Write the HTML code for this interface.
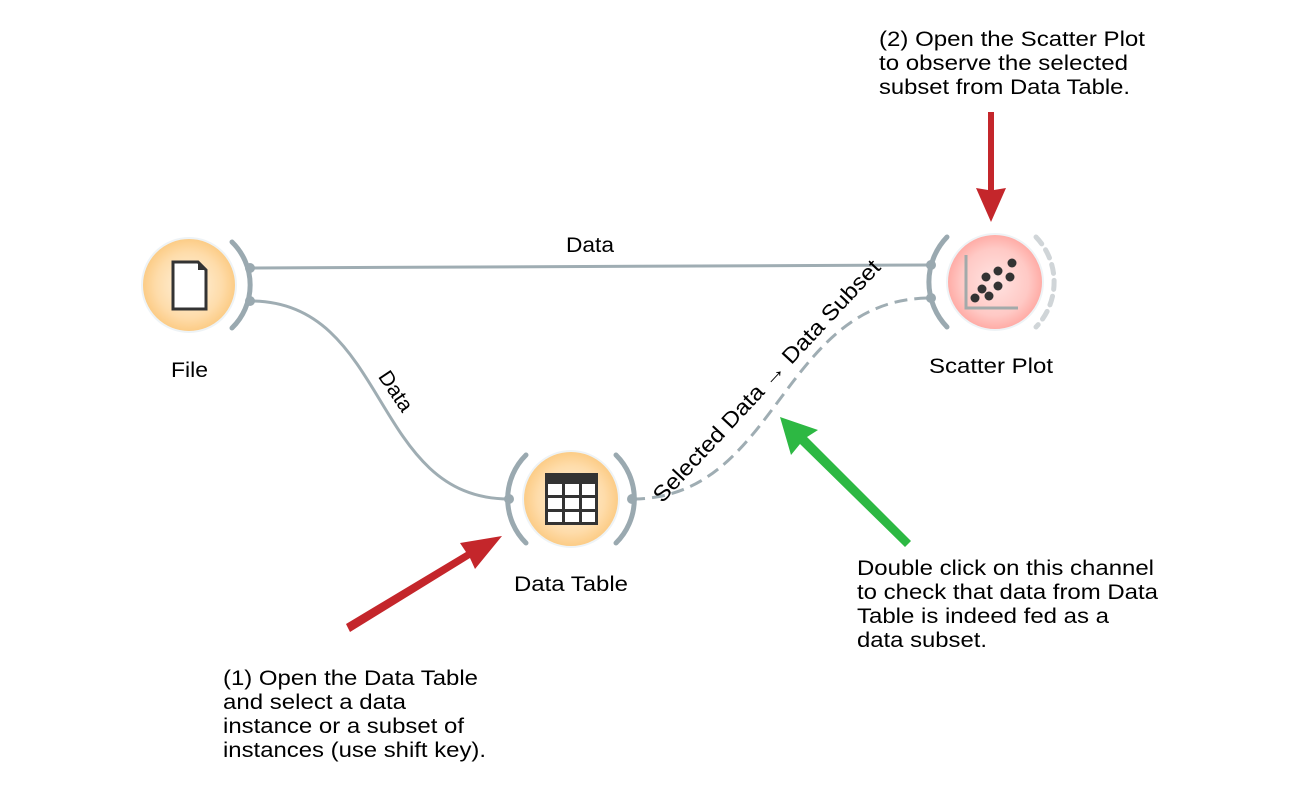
<!DOCTYPE html>
<html><head><meta charset="utf-8"><style>
html,body{margin:0;padding:0;background:#fff;}
svg{display:block;font-family:"Liberation Sans",Arial,sans-serif;}
</style></head><body>
<svg width="1316" height="801" viewBox="0 0 1316 801" xmlns="http://www.w3.org/2000/svg">
<defs>
<radialGradient id="og" cx="50%" cy="50%" r="50%">
<stop offset="0" stop-color="#fff3e0"/><stop offset="0.7" stop-color="#fedcaa"/><stop offset="1" stop-color="#fccb84"/>
</radialGradient>
<radialGradient id="rg" cx="50%" cy="50%" r="50%">
<stop offset="0" stop-color="#ffe4e2"/><stop offset="0.7" stop-color="#ffc9c5"/><stop offset="1" stop-color="#ffaaa4"/>
</radialGradient>
</defs>
<!-- links -->
<path d="M250 268 L931 265" stroke="#9fadb3" stroke-width="3" fill="none"/>
<path d="M250 301 C390 301 370 499 509 499" stroke="#9fadb3" stroke-width="3" fill="none"/>
<path d="M632 499 C780 499 780 298 931 298" stroke="#9fadb3" stroke-width="3" fill="none" stroke-dasharray="13 7"/>
<!-- File node -->
<circle cx="189" cy="285" r="47" fill="url(#og)" stroke="#eef3f6" stroke-width="2"/>
<path d="M173 262 L198 262 L206 270 L206 309 L173 309 Z" fill="#fff" stroke="#333" stroke-width="3"/>
<path d="M198 262 L206 270 L198 270 Z" fill="#333"/>
<path d="M232 242 A60 60 0 0 1 232 328" stroke="#9aa9b0" stroke-width="5" fill="none" stroke-linecap="round"/>
<circle cx="250" cy="268" r="5" fill="#9aa9b0"/><circle cx="250" cy="301" r="5" fill="#9aa9b0"/>
<g font-size="21" lengthAdjust="spacingAndGlyphs">
<text x="171" y="377" textLength="37" lengthAdjust="spacingAndGlyphs">File</text>
</g>
<!-- Scatter -->
<circle cx="995" cy="282" r="48" fill="url(#rg)" stroke="#eef3f6" stroke-width="2"/>
<path d="M966 255 L966 308 L1018 308" stroke="#a3aaaa" stroke-width="3" fill="none"/>
<g fill="#333"><circle cx="975" cy="298" r="4.5"/><circle cx="982" cy="289" r="4.5"/><circle cx="989" cy="296" r="4.5"/><circle cx="986" cy="277" r="4.5"/><circle cx="998" cy="286" r="4.5"/><circle cx="998" cy="271" r="4.5"/><circle cx="1010" cy="277" r="4.5"/><circle cx="1012" cy="263" r="4.5"/></g>
<path d="M947 237 A65 65 0 0 0 947 327" stroke="#9aa9b0" stroke-width="5" fill="none" stroke-linecap="round"/>
<circle cx="931" cy="265" r="5" fill="#9aa9b0"/><circle cx="931" cy="298" r="5" fill="#9aa9b0"/>
<path d="M1036 237 A65 65 0 0 1 1036 327" stroke="#d0d5d8" stroke-width="5" fill="none" stroke-dasharray="9 7" stroke-linecap="round"/>
<text x="929" y="373" font-size="21" textLength="124" lengthAdjust="spacingAndGlyphs">Scatter Plot</text>
<!-- Data Table -->
<circle cx="571" cy="499" r="48" fill="url(#og)" stroke="#eef3f6" stroke-width="2"/>
<rect x="545" y="473" width="53" height="52" fill="#333"/>
<g fill="#fff"><rect x="548" y="484" width="14" height="11"/><rect x="565" y="484" width="14" height="11"/><rect x="582" y="484" width="13" height="11"/>
<rect x="548" y="498" width="14" height="11"/><rect x="565" y="498" width="14" height="11"/><rect x="582" y="498" width="13" height="11"/>
<rect x="548" y="512" width="14" height="10"/><rect x="565" y="512" width="14" height="10"/><rect x="582" y="512" width="13" height="10"/></g>
<path d="M526 455 A62 62 0 0 0 526 543" stroke="#9aa9b0" stroke-width="5" fill="none" stroke-linecap="round"/>
<path d="M616 455 A62 62 0 0 1 616 543" stroke="#9aa9b0" stroke-width="5" fill="none" stroke-linecap="round"/>
<circle cx="509" cy="499" r="5" fill="#9aa9b0"/><circle cx="632" cy="499" r="5" fill="#9aa9b0"/>
<text x="514" y="591" font-size="21" textLength="114" lengthAdjust="spacingAndGlyphs">Data Table</text>
<!-- link labels -->
<text x="566" y="252" font-size="21" textLength="48" lengthAdjust="spacingAndGlyphs">Data</text>
<text x="0" y="0" font-size="21" text-anchor="middle" transform="translate(390,395) rotate(56)">Data</text>
<text x="0" y="0" font-size="22" text-anchor="middle" textLength="322" lengthAdjust="spacingAndGlyphs" transform="translate(772,386) rotate(-47)">Selected Data → Data Subset</text>
<!-- arrows -->
<g fill="#c4262b">
<path d="M988 112 L994 112 L994 190 L1006 188 L991 222 L976 188 L988 190 Z"/>
<path d="M346 624 L350 632 L470 558 L475 569 L502 536 L460 543 L466 552 Z"/>
</g>
<path d="M911 541 L905 547 L800 444 L791 455 L780 417 L818 430 L807 437 Z" fill="#2db843"/>
<!-- notes -->
<g font-size="21">
<text x="879" y="46" textLength="266" lengthAdjust="spacingAndGlyphs">(2) Open the Scatter Plot</text>
<text x="879" y="70" textLength="249" lengthAdjust="spacingAndGlyphs">to observe the selected</text>
<text x="879" y="94" textLength="251" lengthAdjust="spacingAndGlyphs">subset from Data Table.</text>
<text x="857" y="575" textLength="297" lengthAdjust="spacingAndGlyphs">Double click on this channel</text>
<text x="857" y="599" textLength="301" lengthAdjust="spacingAndGlyphs">to check that data from Data</text>
<text x="857" y="623" textLength="252" lengthAdjust="spacingAndGlyphs">Table is indeed fed as a</text>
<text x="857" y="647" textLength="130" lengthAdjust="spacingAndGlyphs">data subset.</text>
<text x="223" y="685" textLength="255" lengthAdjust="spacingAndGlyphs">(1) Open the Data Table</text>
<text x="223" y="709" textLength="183" lengthAdjust="spacingAndGlyphs">and select a data</text>
<text x="223" y="733" textLength="241" lengthAdjust="spacingAndGlyphs">instance or a subset of</text>
<text x="223" y="757" textLength="263" lengthAdjust="spacingAndGlyphs">instances (use shift key).</text>
</g>
</svg>
</body></html>
